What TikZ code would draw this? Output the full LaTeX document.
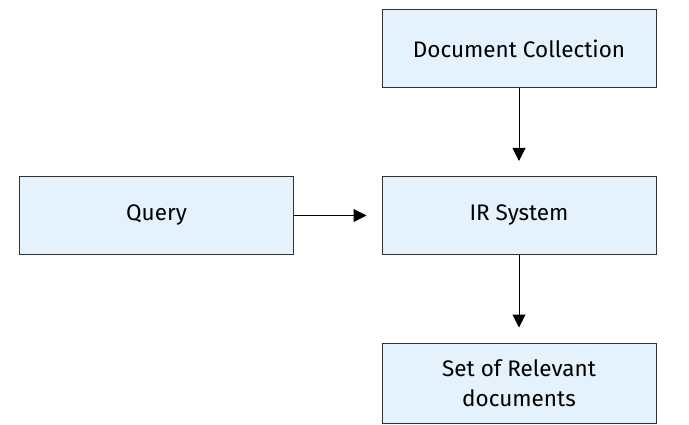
\documentclass[tikz,border=0pt]{standalone}
\usepackage{fontspec}
\setmainfont{Fira Sans}
\usetikzlibrary{
    arrows.meta,
    calc,
    positioning
}
\definecolor{boxfill}{HTML}{E3F2FD}
\definecolor{boxline}{HTML}{333333}

\begin{document}
\begin{tikzpicture}[x=1pt, y=-1pt,
    irbox/.style={draw=boxline, fill=boxfill, line width=1pt,
        minimum width=274pt, minimum height=78pt, align=center,
        font=\fontsize{22.5}{30}\selectfont},
    flow/.style={line width=1pt, shorten >=15pt,
        -{Triangle[length=13pt, width=13pt]}}]
                                \useasboundingbox (0, 0) rectangle (689, 425);
                                \node[irbox] (docs) at (519, 48.5) {Document Collection};
                                \node[irbox] (query) at (156.5, 215.5) {Query};
                                \node[irbox] (irsys) at (519, 215.5) {IR System};
                                \node[irbox, minimum height=80pt] (result) at (519, 383)
                                    {Set of Relevant\\documents};
                                \draw[flow] (docs) -- (irsys);
                                \draw[flow] (query) -- (irsys);
                                \draw[flow] (irsys) -- (result);
                            \end{tikzpicture}
\end{document}
